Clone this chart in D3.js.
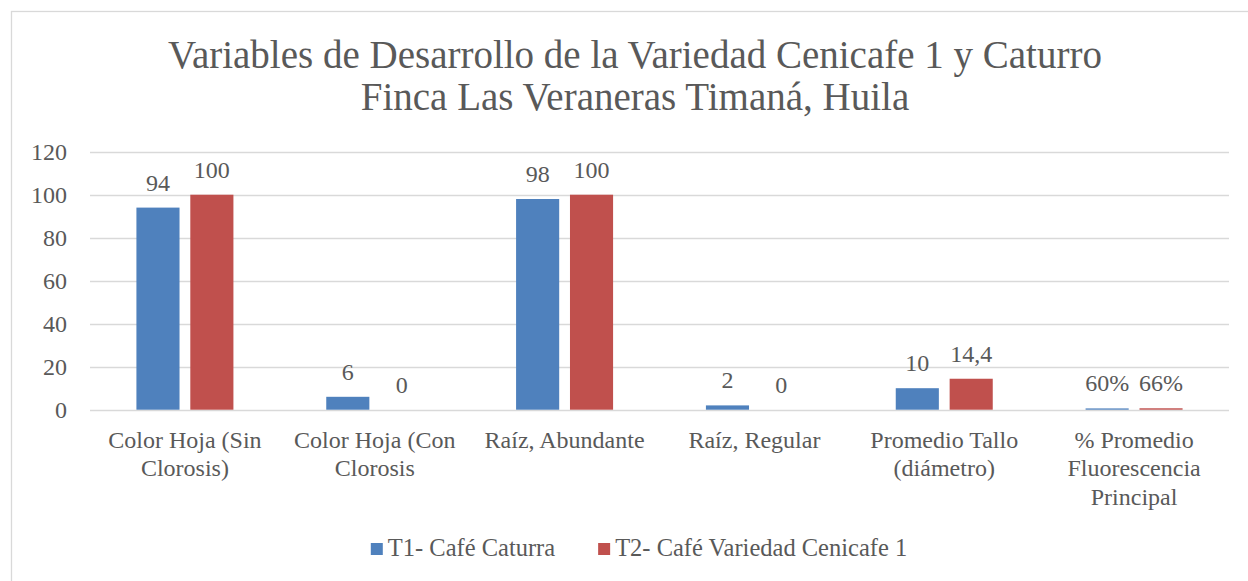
<!DOCTYPE html>
<html>
<head>
<meta charset="utf-8">
<script src="https://cdn.jsdelivr.net/npm/d3@7"></script>
<style>
  html, body { margin: 0; padding: 0; background: #fff; }
  svg text { font-family: "Liberation Serif", "DejaVu Serif", serif; fill: #595959; }
</style>
</head>
<body>
<div id="chart"></div>
<script>
// data
const categories = ["Color Hoja (Sin Clorosis)", "Color Hoja (Con Clorosis", "Raíz, Abundante", "Raíz, Regular", "Promedio Tallo (diámetro)", "% Promedio Fluorescencia Principal"];
const seriesNames = ["T1- Café Caturra", "T2- Café Variedad Cenicafe 1"];
const t1Values = [94, 6, 98, 2, 10, 0.6];
const t2Values = [100, 0, 100, 0, 14.4, 0.66];
const t1Labels = ["94", "6", "98", "2", "10", "60%"];
const t2Labels = ["100", "0", "100", "0", "14,4", "66%"];
const yTicks = [0, 20, 40, 60, 80, 100, 120];
const colors = ["#4F81BD", "#C0504D"];
const titleLines = ["Variables de Desarrollo de la Variedad Cenicafe 1 y Caturro", "Finca Las Veraneras Timaná, Huila"];

const W = 1248, H = 581;
const svg = d3.select('#chart').append('svg').attr('width', W).attr('height', H);

// chart frame
svg.append('rect').attr('x', 11.5).attr('y', 11.5).attr('width', W).attr('height', H)
   .attr('fill', '#fff').attr('stroke', '#D9D9D9').attr('stroke-width', 1.3);

// title
svg.append('g').selectAll('text').data(titleLines).join('text')
   .attr('x', 635).attr('y', (d, i) => 67.5 + i * 42.5)
   .attr('text-anchor', 'middle').style('font-size', '39px')
   .text(d => d);

const x0 = d3.scaleBand().domain(categories).range([90, 1229]);
const bw = x0.bandwidth();
const x1 = d3.scaleBand().domain(seriesNames).range([(bw - 97) / 2, (bw + 97) / 2]).paddingInner(0.2);
const y = d3.scaleLinear().domain([0, 120]).range([409.7, 151.7]);

// gridlines
svg.append('g').selectAll('line').data(yTicks).join('line')
   .attr('x1', 90).attr('x2', 1229)
   .attr('y1', d => Math.round(y(d)) + 0.5).attr('y2', d => Math.round(y(d)) + 0.5)
   .attr('stroke', '#D9D9D9').attr('stroke-width', 1.3);

// y tick labels
svg.append('g').selectAll('text').data(yTicks).join('text')
   .attr('x', 67).attr('y', d => y(d) + 8)
   .attr('text-anchor', 'end').style('font-size', '24px')
   .text(d => d);

const rows = categories.map((c, i) => ({
  cat: c,
  vals: [t1Values[i], t2Values[i]],
  labs: [t1Labels[i], t2Labels[i]]
}));

const groups = svg.append('g').selectAll('g').data(rows).join('g')
   .attr('transform', d => `translate(${x0(d.cat)},0)`);

groups.selectAll('rect').data(d => d.vals.map((v, k) => ({ v, k, s: seriesNames[k] }))).join('rect')
   .attr('x', d => x1(d.s)).attr('width', x1.bandwidth())
   .attr('y', d => y(d.v)).attr('height', d => y(0) - y(d.v))
   .attr('fill', d => colors[d.k]);

groups.selectAll('text.val').data(d => d.vals.map((v, k) => ({ v, k, s: seriesNames[k], lab: d.labs[k] }))).join('text')
   .attr('class', 'val')
   .attr('x', d => x1(d.s) + x1.bandwidth() / 2).attr('y', d => y(d.v) - 17)
   .attr('text-anchor', 'middle').style('font-size', '24px')
   .text(d => d.lab);

// category labels, wrapped
const catG = svg.append('g');
categories.forEach(c => {
  const t = catG.append('text').attr('text-anchor', 'middle').style('font-size', '24px');
  const cx = x0(c) + bw / 2;
  const words = c.split(' ');
  let lines = [], cur = [];
  words.forEach(w => {
    const test = cur.concat(w).join(' ');
    t.text(test);
    if (t.node().getComputedTextLength() > 178 && cur.length) {
      lines.push(cur.join(' '));
      cur = [w];
    } else cur.push(w);
  });
  lines.push(cur.join(' '));
  t.text(null);
  lines.forEach((l, i) => {
    t.append('tspan').attr('x', cx).attr('y', 447.5 + i * 28.5).text(l);
  });
});

// legend
const leg = svg.append('g');
let lx = 0;
seriesNames.forEach((s, i) => {
  const g = leg.append('g').attr('transform', `translate(${lx},0)`);
  g.append('rect').attr('x', 0).attr('y', 543).attr('width', 12).attr('height', 12).attr('fill', colors[i]);
  const t = g.append('text').attr('x', 17).attr('y', 555.5).style('font-size', '24.5px').text(s);
  lx += 17 + t.node().getComputedTextLength() + 43;
});
const legW = lx - 43;
leg.attr('transform', `translate(${639 - legW / 2},0)`);
</script>
</body>
</html>
